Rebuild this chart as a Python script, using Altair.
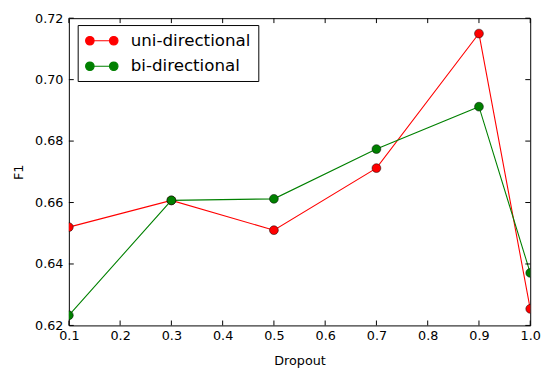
import altair as alt
import pandas as pd

dropout = [0.1, 0.3, 0.5, 0.7, 0.9, 1.0]
uni = [0.652, 0.6607, 0.651, 0.6712, 0.715, 0.6254]
bi = [0.6233, 0.6607, 0.6612, 0.6774, 0.6912, 0.6371]
series = ["uni-directional", "bi-directional"]
colors = ["#ff0000", "#008000"]
x_ticks = [0.1, 0.2, 0.3, 0.4, 0.5, 0.6, 0.7, 0.8, 0.9, 1.0]
y_ticks = [0.62, 0.64, 0.66, 0.68, 0.70, 0.72]

W, H = 470, 313
FONT = "DejaVu Sans"

rows = []
for name, vals in zip(series, [uni, bi]):
    for xv, yv in zip(dropout, vals):
        rows.append({"Dropout": xv, "F1": yv, "series": name})
df = pd.DataFrame(rows)

xs = alt.Scale(domain=[0.1, 1.0], nice=False, zero=False)
ys = alt.Scale(domain=[0.62, 0.72], nice=False, zero=False)

# unit = 8px (symbolSize 256): line with a marker at each end
legend_path = ("M-0.45,0L2.59,0 "
               "M0.09,0A0.54,0.54 0 1,1 -0.99,0A0.54,0.54 0 1,1 0.09,0Z "
               "M3.13,0A0.54,0.54 0 1,1 2.05,0A0.54,0.54 0 1,1 3.13,0Z")

color = alt.Color("series:N", scale=alt.Scale(domain=series, range=colors),
                  sort=series,
                  legend=alt.Legend(title=None, orient="none", legendX=9, legendY=7,
                                    symbolType=legend_path, symbolSize=256,
                                    symbolStrokeWidth=1.2, labelFontSize=17,
                                    labelFont=FONT, labelColor="black",
                                    labelOffset=29, rowPadding=9, padding=7,
                                    strokeColor="black", fillColor="white",
                                    cornerRadius=0))

xax = alt.X("Dropout:Q", scale=xs,
            axis=alt.Axis(values=x_ticks, format=".1f", title="Dropout", ticks=False,
                          domain=False, grid=False, labelPadding=4, titlePadding=13,
                          labelFlush=False))
yax = alt.Y("F1:Q", scale=ys,
            axis=alt.Axis(values=y_ticks, format=".2f", title="F1", ticks=False,
                          domain=False, grid=False, labelPadding=6, titlePadding=9))

base = alt.Chart(df)
lines = base.mark_line(strokeWidth=1.1, clip=True).encode(x=xax, y=yax, color=color, detail="series:N")
points = base.mark_point(filled=True, size=81, opacity=1, stroke="black", strokeWidth=0.5,
                         clip=True).encode(x="Dropout:Q", y="F1:Q", color=alt.Color("series:N", scale=alt.Scale(domain=series, range=colors), legend=None))

xt = alt.Chart(pd.DataFrame({"t": x_ticks}))
yt = alt.Chart(pd.DataFrame({"t": y_ticks}))
tk = 5
bottom = xt.mark_rule(color="black", strokeWidth=1).encode(x=alt.X("t:Q", scale=xs), y=alt.value(H), y2=alt.value(H - tk))
top = xt.mark_rule(color="black", strokeWidth=1).encode(x=alt.X("t:Q", scale=xs), y=alt.value(0), y2=alt.value(tk))
left = yt.mark_rule(color="black", strokeWidth=1).encode(y=alt.Y("t:Q", scale=ys), x=alt.value(0), x2=alt.value(tk))
right = yt.mark_rule(color="black", strokeWidth=1).encode(y=alt.Y("t:Q", scale=ys), x=alt.value(W), x2=alt.value(W - tk))

chart = alt.layer(lines, points, bottom, top, left, right).properties(
    width=W, height=H,
    autosize=alt.AutoSizeParams(type="none"),
    padding={"left": 62, "top": 7, "right": 12, "bottom": 40},
).configure(background="white").configure_view(stroke="black", strokeWidth=1).configure_axis(
    labelFont=FONT, labelFontSize=13, labelColor="black",
    titleFont=FONT, titleFontSize=13, titleFontWeight="normal", titleColor="black",
)

chart.save("out.html", embed_options={"renderer": "svg", "actions": False})
